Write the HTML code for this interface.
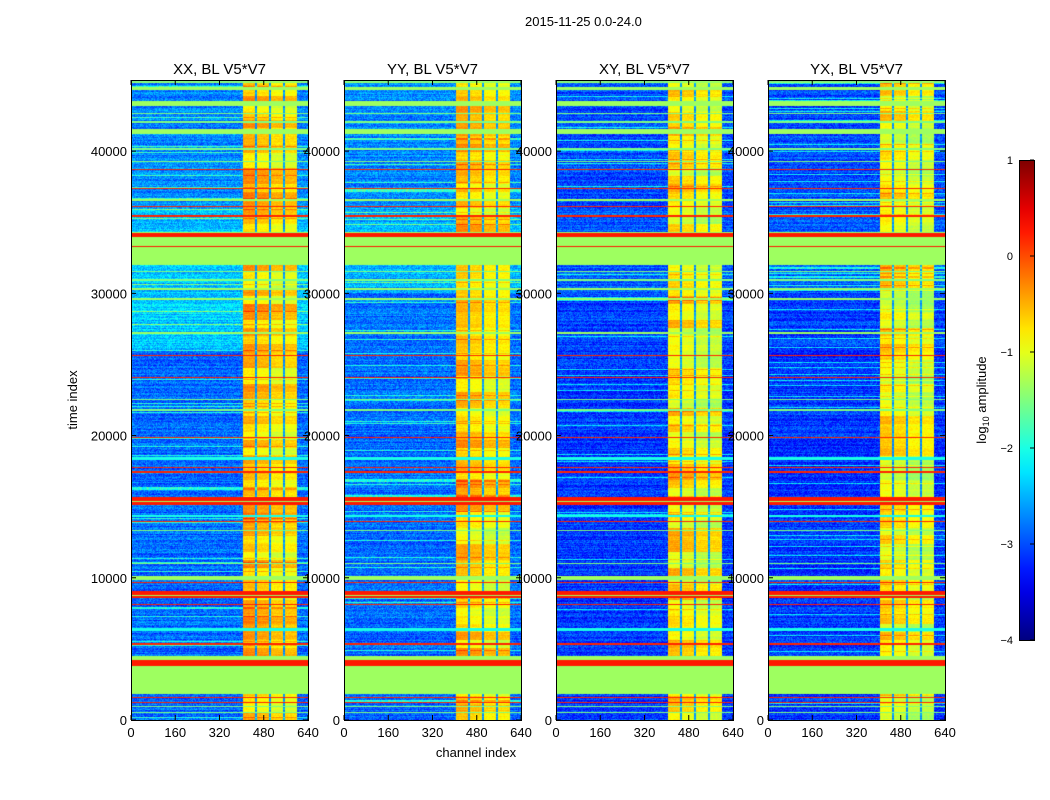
<!DOCTYPE html>
<html><head><meta charset="utf-8">
<style>
body{margin:0;background:#fff;font-family:"Liberation Sans",sans-serif;}
#wrap{position:relative;width:1050px;height:800px;overflow:hidden;background:#fff;}
.t{position:absolute;white-space:nowrap;color:#000;}
canvas{position:absolute;}
</style></head><body>
<div id="wrap">
<div class="t" style="left:525px;top:14px;font-size:13px;">2015-11-25 0.0-24.0</div>
<svg id="axes" width="1050" height="800" style="position:absolute;left:0;top:0"></svg>
</div>
<script>
// ---- data ----
const panelTitles = ["XX, BL V5*V7","YY, BL V5*V7","XY, BL V5*V7","YX, BL V5*V7"];
const xTicks = [0,160,320,480,640];
const yTicks = [0,10000,20000,30000,40000];
const cbTicks = [1,0,-1,-2,-3,-4];
const cbTickLabels = ["1","0","\u22121","\u22122","\u22123","\u22124"];
// full-width flagged time bands [start, end, log10 value]
const flagBands = [
 [1800,4500,-1.35],[3800,4200,0.25],[1550,1650,0.2],[1200,1280,0.2],[900,980,-1.5],[500,560,-1.5],
 [5300,5380,0.2],[6250,6450,-2.0],[8100,8180,0.2],[8550,9050,0.25],[8700,8800,-1.35],[9600,9680,0.2],
 [9850,10150,-1.35],[11000,11060,-1.5],[12200,12260,-1.5],[13300,13350,-1.5],[13900,13970,0.2],[14300,14420,-2.0],
 [15150,15650,0.25],[15350,15420,-1.35],[16000,16050,-0.2],[17400,17480,0.2],[17700,17780,0.2],[18300,18500,-2.0],
 [19800,19880,0.2],[21700,21850,-1.5],[22500,22600,-1.5],[24050,24130,0.2],[25580,25660,0.2],[27150,27250,-1.35],
 [29500,29700,-1.35],[30200,30400,-1.35],[30900,31000,-1.5],[31500,31600,-1.5],
 [32000,34300,-1.35],[33250,33330,0.25],[33950,34250,0.25],[35400,35500,0.2],[36050,36130,0.2],[36500,36600,-1.35],
 [37350,37430,0.2],[38650,38730,0.2],[39200,39300,-1.5],[40100,40200,-1.5],[41200,41550,-1.35],[42000,42100,-1.5],
 [42600,42700,-1.5],[43200,43500,-1.35],[44300,44500,-1.35],[44800,44950,-1.4]
];
// background level by time segment, per panel [start, end, XX, YY, XY, YX]
const bgSegments = [
 [0,26000,-2.85,-2.85,-3.1,-3.1],
 [26000,30000,-2.35,-2.8,-3.05,-3.05],
 [30000,36000,-2.4,-2.5,-2.9,-2.9],
 [36000,45000,-2.7,-2.7,-3.0,-3.0]
];
// RFI channel columns [chStart, chEnd, log10 value]
const rfiCols = [[405,450,-0.6],[456,500,-0.7],[506,550,-0.85],[557,600,-0.85]];
const rfiGapLevel = -2.6;
const rfiPanelOffset = [0.05,0.0,-0.1,-0.2];
const tMax = 45000, chMax = 640, vMin = -4, vMax = 1;

// ---- layout ----
const panelX = [131,344,556,768], plotW = 177, plotTop = 80, plotH = 640;
const X = (ch)=> ch/chMax*plotW;
const Y = (t)=> plotH - t/tMax*plotH;
function jet(v){
  let x=(v-vMin)/(vMax-vMin); x=Math.max(0,Math.min(1,x));
  const f=(a)=>Math.max(0,Math.min(1,a));
  const r=f(1.5-Math.abs(4*x-3)), g=f(1.5-Math.abs(4*x-2)), b=f(1.5-Math.abs(4*x-1));
  return [r*255|0,g*255|0,b*255|0];
}
function hash(a,b,c){let h=(a*374761393+b*668265263+c*2147483647)|0;h=(h^(h>>>13))*1274126177|0;return ((h^(h>>>16))>>>0)/4294967296;}
const wrap=document.getElementById('wrap');
const svg=document.getElementById('axes');
const NS="http://www.w3.org/2000/svg";
function addText(x,y,txt,size,anchor,name,extra){
  const el=document.createElementNS(NS,'text');
  el.setAttribute('x',x);el.setAttribute('y',y);el.setAttribute('font-size',size);
  el.setAttribute('text-anchor',anchor);el.setAttribute('font-family','Liberation Sans, sans-serif');
  if(extra)el.setAttribute('transform',extra);
  el.textContent=txt;
  
  
  svg.appendChild(el);return el;
}
function addLine(x1,y1,x2,y2,name,w){
  const l=document.createElementNS(NS,'line');
  l.setAttribute('x1',x1);l.setAttribute('y1',y1);l.setAttribute('x2',x2);l.setAttribute('y2',y2);
  l.setAttribute('stroke','#000');l.setAttribute('stroke-width',w||1);
  
  
  svg.appendChild(l);
}
panelTitles.forEach((title,p)=>{
  const cv=document.createElement('canvas');
  cv.width=plotW;cv.height=plotH;
  cv.style.left=panelX[p]+'px';cv.style.top=plotTop+'px';
  
  
  wrap.insertBefore(cv,svg);
  const ctx=cv.getContext('2d');
  const img=ctx.createImageData(plotW,plotH);
  for(let py=0;py<plotH;py++){
    const t=(plotH-py-0.5)/plotH*tMax;
    let bg=-2.85;
    bgSegments.forEach(s=>{if(t>=s[0]&&t<s[1])bg=s[2+p];});
    let flag=null;
    flagBands.forEach(b=>{if(t>=b[0]&&t<b[1])flag=b[2];});
    const rs=hash(py,7,p);
    const rowStreak=(rs-0.5)*0.4 + (rs>0.93?0.7:0);
    const rowBlock=(hash(Math.floor(py/8),3,p)-0.5)*0.7;
    for(let px=0;px<plotW;px++){
      const ch=(px+0.5)/plotW*chMax;
      let v;
      if(flag!==null){v=flag;}
      else{
        v=bg+rowStreak+(hash(px,py,p)-0.5)*0.6;
        if(ch>=405&&ch<600){
          let r=rfiGapLevel+rowStreak;
          rfiCols.forEach(c=>{if(ch>=c[0]&&ch<c[1])r=c[2]+rfiPanelOffset[p]+rowBlock+rowStreak*0.4+(hash(px,py,9)-0.5)*0.2;});
          v=r;
        }
      }
      const c=jet(v),k=(py*plotW+px)*4;
      img.data[k]=c[0];img.data[k+1]=c[1];img.data[k+2]=c[2];img.data[k+3]=255;
    }
  }
  ctx.putImageData(img,0,0);
  const x0=panelX[p];
  const r=document.createElementNS(NS,'rect');
  r.setAttribute('x',x0+0.5);r.setAttribute('y',plotTop+0.5);r.setAttribute('width',plotW);r.setAttribute('height',plotH);
  r.setAttribute('fill','none');r.setAttribute('stroke','#000');
  
  
  svg.appendChild(r);
  addText(x0+plotW/2,74,title,15,'middle','panel-title');
  xTicks.forEach(v=>{
    const x=x0+X(v);
    addLine(x,plotTop+plotH,x,plotTop+plotH-5,'x-tick');
    addLine(x,plotTop,x,plotTop+5,'x-tick');
    addText(x,737,String(v),13,'middle','x-tick-label');
  });
  yTicks.forEach(v=>{
    const y=plotTop+Y(v);
    addLine(x0,y,x0+5,y,'y-tick');
    addLine(x0+plotW,y,x0+plotW-5,y,'y-tick');
    addText(x0-4,y+5,String(v),13,'end','y-tick-label');
  });
});
addText(476,757,'channel index',13,'middle','x-axis-title');
addText(77,400,'time index',13,'middle','y-axis-title','rotate(-90 77 400)');
// colorbar
const cbX=1019,cbTop=160,cbW=15,cbH=480;
const defs=document.createElementNS(NS,'defs');
const grad=document.createElementNS(NS,'linearGradient');
grad.setAttribute('id','jetg');grad.setAttribute('x1','0');grad.setAttribute('y1','1');grad.setAttribute('x2','0');grad.setAttribute('y2','0');
for(let i=0;i<=20;i++){const s=document.createElementNS(NS,'stop');const c=jet(vMin+i/20*(vMax-vMin));
  s.setAttribute('offset',i/20);s.setAttribute('stop-color',`rgb(${c[0]},${c[1]},${c[2]})`);grad.appendChild(s);}
defs.appendChild(grad);svg.appendChild(defs);
const cb=document.createElementNS(NS,'rect');
cb.setAttribute('x',cbX+0.5);cb.setAttribute('y',cbTop+0.5);cb.setAttribute('width',cbW);cb.setAttribute('height',cbH);
cb.setAttribute('fill','url(#jetg)');cb.setAttribute('stroke','#000');


svg.appendChild(cb);
cbTicks.forEach((v,i)=>{
  const y=cbTop+(vMax-v)/(vMax-vMin)*cbH;
  addLine(cbX+cbW-4,y,cbX+cbW,y,'colorbar-tick');
  addText(cbX-6,y+4,cbTickLabels[i],11,'end','colorbar-tick-label');
});
const lab=addText(986,400,'log',13,'middle','colorbar-label','rotate(-90 986 400)');
const sub=document.createElementNS(NS,'tspan');sub.setAttribute('font-size','9');sub.setAttribute('dy','3');sub.textContent='10';lab.appendChild(sub);
const rest=document.createElementNS(NS,'tspan');rest.setAttribute('dy','-3');rest.textContent=' amplitude';lab.appendChild(rest);
</script>
</body></html>
